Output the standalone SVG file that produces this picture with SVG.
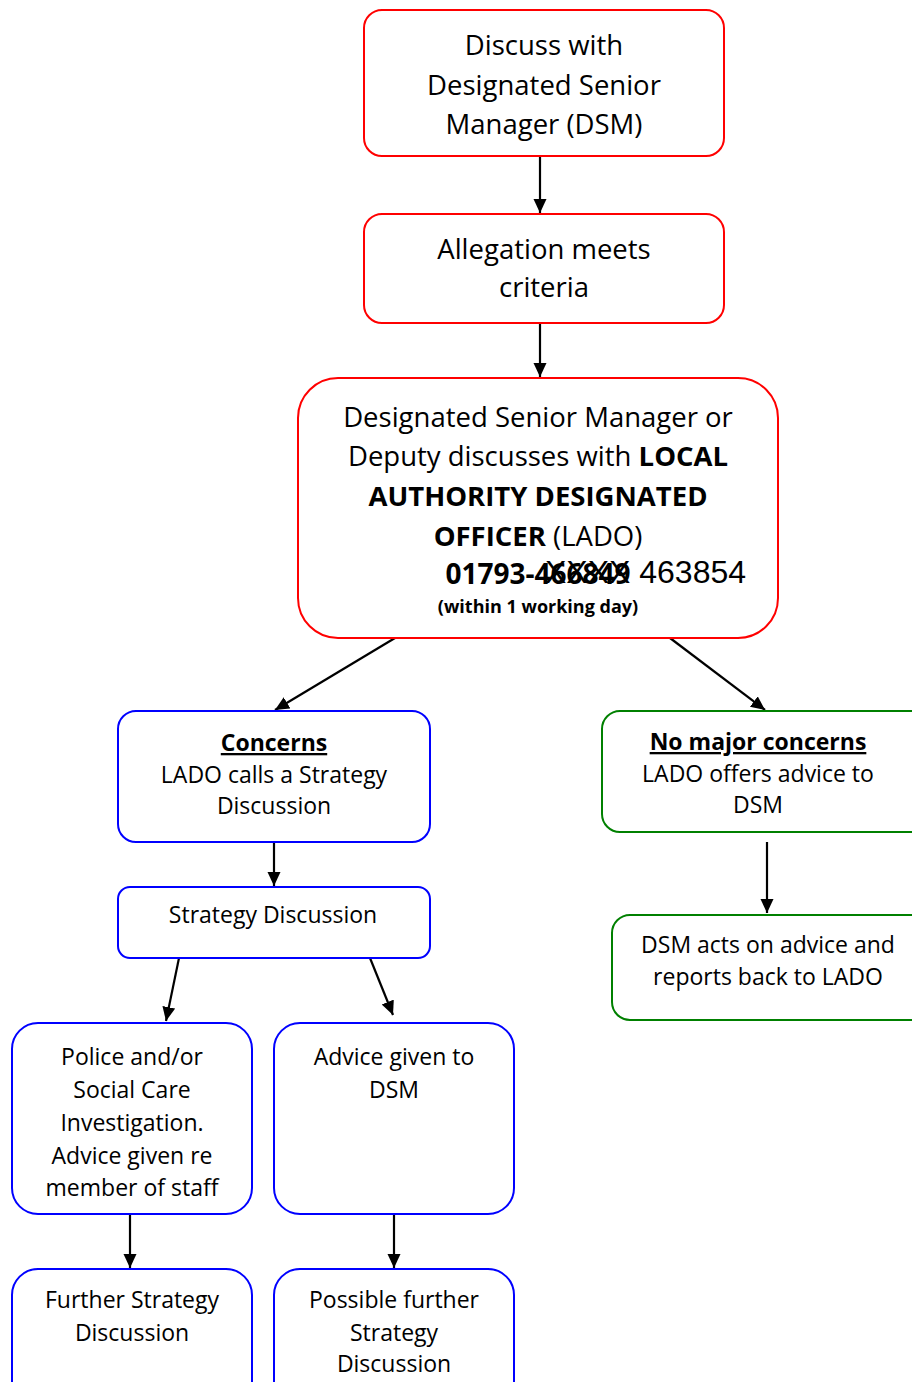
<svg xmlns="http://www.w3.org/2000/svg" width="912" height="1382" viewBox="0 0 912 1382">
<style>
.t{font-family:"Open Sans","Noto Sans",sans-serif;fill:#000;text-anchor:middle}
.big{font-size:27.5px}
.med{font-size:23px}
.b{font-weight:bold}
.red{fill:#fff;stroke:#ff0000;stroke-width:2}
.blue{fill:#fff;stroke:#0000ff;stroke-width:2}
.green{fill:#fff;stroke:#008000;stroke-width:2}
.c{stroke:#000;stroke-width:2.2;fill:none;marker-end:url(#ah)}
</style>
<defs>
<marker id="ah" markerUnits="userSpaceOnUse" markerWidth="14" markerHeight="14" refX="14" refY="6.5" orient="auto">
<path d="M0,0 L14,6.5 L0,13 z" fill="#000"/>
</marker>
</defs>
<rect width="912" height="1382" fill="#fff"/>
<g id="connectors">
<line class="c" x1="540" y1="156" x2="540" y2="213"/>
<line class="c" x1="540" y1="323" x2="540" y2="377"/>
<line class="c" x1="395" y1="638" x2="275" y2="710"/>
<line class="c" x1="670" y1="638" x2="765" y2="710"/>
<line class="c" x1="274" y1="842" x2="274" y2="886"/>
<line class="c" x1="767" y1="842" x2="767" y2="913"/>
<line class="c" x1="179" y1="958" x2="166" y2="1021"/>
<line class="c" x1="370" y1="958" x2="393" y2="1015"/>
<line class="c" x1="130" y1="1214" x2="130" y2="1268"/>
<line class="c" x1="394" y1="1214" x2="394" y2="1268"/>
</g>
<g id="n1">
<rect class="red" x="364" y="10" width="360" height="146" rx="18"/>
<text class="t big" x="544" y="55">Discuss with</text>
<text class="t big" x="544" y="95">Designated Senior</text>
<text class="t big" x="544" y="134">Manager (DSM)</text>
</g>
<g id="n2">
<rect class="red" x="364" y="214" width="360" height="109" rx="18"/>
<text class="t big" x="544" y="259">Allegation meets</text>
<text class="t big" x="544" y="297">criteria</text>
</g>
<g id="n3">
<rect class="red" x="298" y="378" width="480" height="260" rx="40"/>
<text class="t big" x="538" y="427">Designated Senior Manager or</text>
<text class="t big" x="538" y="466">Deputy discusses with <tspan class="b">LOCAL</tspan></text>
<text class="t big b" x="538" y="506">AUTHORITY DESIGNATED</text>
<text class="t big" x="538" y="546"><tspan class="b">OFFICER</tspan> (LADO)</text>
<text class="t b" x="538" y="584" style="font-size:28px">01793-466849</text>
<text x="545" y="583" style="font-family:'Liberation Sans',Arial,sans-serif;font-size:32px;fill:#000">XXXX 463854</text>
<text class="t b" x="538" y="613" style="font-size:18px">(within 1 working day)</text>
</g>
<g id="n4">
<rect class="blue" x="118" y="711" width="312" height="131" rx="18"/>
<text class="t med b" x="274" y="751" text-decoration="underline">Concerns</text>
<text class="t med" x="274" y="783">LADO calls a Strategy</text>
<text class="t med" x="274" y="814">Discussion</text>
</g>
<g id="n5">
<rect class="green" x="602" y="711" width="330" height="121" rx="18"/>
<text class="t med b" x="758" y="750" text-decoration="underline">No major concerns</text>
<text class="t med" x="758" y="782">LADO offers advice to</text>
<text class="t med" x="758" y="813">DSM</text>
</g>
<g id="n6">
<rect class="blue" x="118" y="887" width="312" height="71" rx="12"/>
<text class="t med" x="273" y="923">Strategy Discussion</text>
</g>
<g id="n7">
<rect class="green" x="612" y="915" width="320" height="105" rx="18"/>
<text class="t med" x="768" y="953">DSM acts on advice and</text>
<text class="t med" x="768" y="985">reports back to LADO</text>
</g>
<g id="n8">
<rect class="blue" x="12" y="1023" width="240" height="191" rx="26"/>
<text class="t med" x="132" y="1065">Police and/or</text>
<text class="t med" x="132" y="1098">Social Care</text>
<text class="t med" x="132" y="1131">Investigation.</text>
<text class="t med" x="132" y="1164">Advice given re</text>
<text class="t med" x="132" y="1196">member of staff</text>
</g>
<g id="n9">
<rect class="blue" x="274" y="1023" width="240" height="191" rx="26"/>
<text class="t med" x="394" y="1065">Advice given to</text>
<text class="t med" x="394" y="1098">DSM</text>
</g>
<g id="n10">
<rect class="blue" x="12" y="1269" width="240" height="160" rx="26"/>
<text class="t med" x="132" y="1308">Further Strategy</text>
<text class="t med" x="132" y="1341">Discussion</text>
</g>
<g id="n11">
<rect class="blue" x="274" y="1269" width="240" height="160" rx="26"/>
<text class="t med" x="394" y="1308">Possible further</text>
<text class="t med" x="394" y="1341">Strategy</text>
<text class="t med" x="394" y="1372">Discussion</text>
</g>
</svg>
